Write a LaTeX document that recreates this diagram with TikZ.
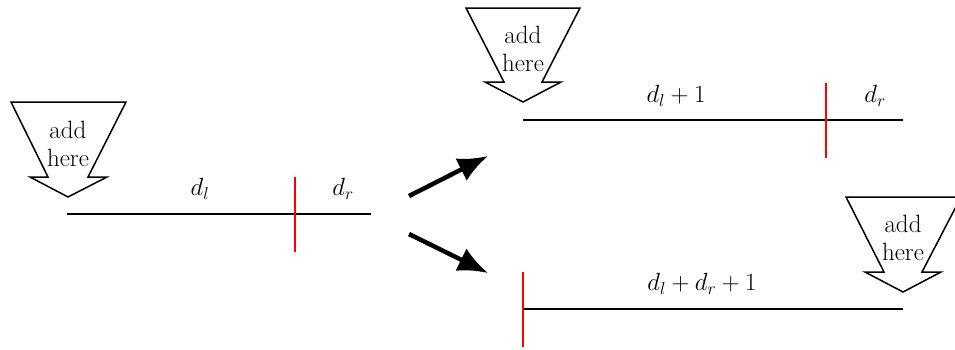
\documentclass[tikz,border=0pt]{standalone}
\usetikzlibrary{arrows.meta}
\begin{document}
\begin{tikzpicture}[x=1pt,y=-1pt,
  addarrow/.style={draw=black,line width=1.5pt,line join=miter,fill=white},
  addtext/.style={align=center,font=\fontsize{25}{28}\selectfont,inner sep=0pt},
  baseline/.style={line width=2.6pt},
  cut/.style={draw=red,line width=2.6pt},
  lab/.style={font=\fontsize{26}{30}\selectfont,inner sep=0pt},
  bigarrow/.style={line width=4.5pt,-{Latex[length=30pt,width=25pt]}}]
\useasboundingbox (0,0) rectangle (955,349);
\clip (0,0) rectangle (955,349);
% left configuration
\draw[addarrow] (11,102) -- (126,102) -- (88,177) -- (107,177) -- (68,197) -- (30,177) -- (48,177) -- cycle;
\node[addtext] (add1) at (68,144) {add\\here};
\coordinate (l1a) at (67,214);
\coordinate (l1b) at (371,214);
\draw[baseline] (l1a) -- (l1b);
\coordinate (c1a) at (295,177);
\coordinate (c1b) at (295,252);
\draw[cut] (c1a) -- (c1b);
\node[lab] (dl1) at (200,189) {$d_l$};
\node[lab] (dr1) at (343,189) {$d_r$};
% arrows
\coordinate (s1) at (409,196);
\coordinate (t1) at (488,156);
\coordinate (s2) at (409,234);
\coordinate (t2) at (488,273);
\draw[bigarrow] (s1) -- (t1);
\draw[bigarrow] (s2) -- (t2);
% top right configuration
\draw[addarrow] (466,8) -- (580,8) -- (542,82) -- (561,82) -- (523,102) -- (485,82) -- (504,82) -- cycle;
\node[addtext] (add2) at (523,49) {add\\here};
\coordinate (l2a) at (523,120);
\coordinate (l2b) at (903,120);
\draw[baseline] (l2a) -- (l2b);
\coordinate (c2a) at (826,83);
\coordinate (c2b) at (826,158);
\draw[cut] (c2a) -- (c2b);
\node[lab] (dl2) at (676,96) {$d_l+1$};
\node[lab] (dr2) at (875,96) {$d_r$};
% bottom right configuration
\draw[addarrow] (846,197) -- (961,197) -- (922,272) -- (941,272) -- (903,292) -- (865,272) -- (884,272) -- cycle;
\node[addtext] (add3) at (903,238) {add\\here};
\coordinate (l3a) at (523,309);
\coordinate (l3b) at (903,309);
\draw[baseline] (l3a) -- (l3b);
\coordinate (c3a) at (523,272);
\coordinate (c3b) at (523,347);
\draw[cut] (c3a) -- (c3b);
\node[lab] (dl3) at (702,284) {$d_l+d_r+1$};
\end{tikzpicture}
\end{document}
